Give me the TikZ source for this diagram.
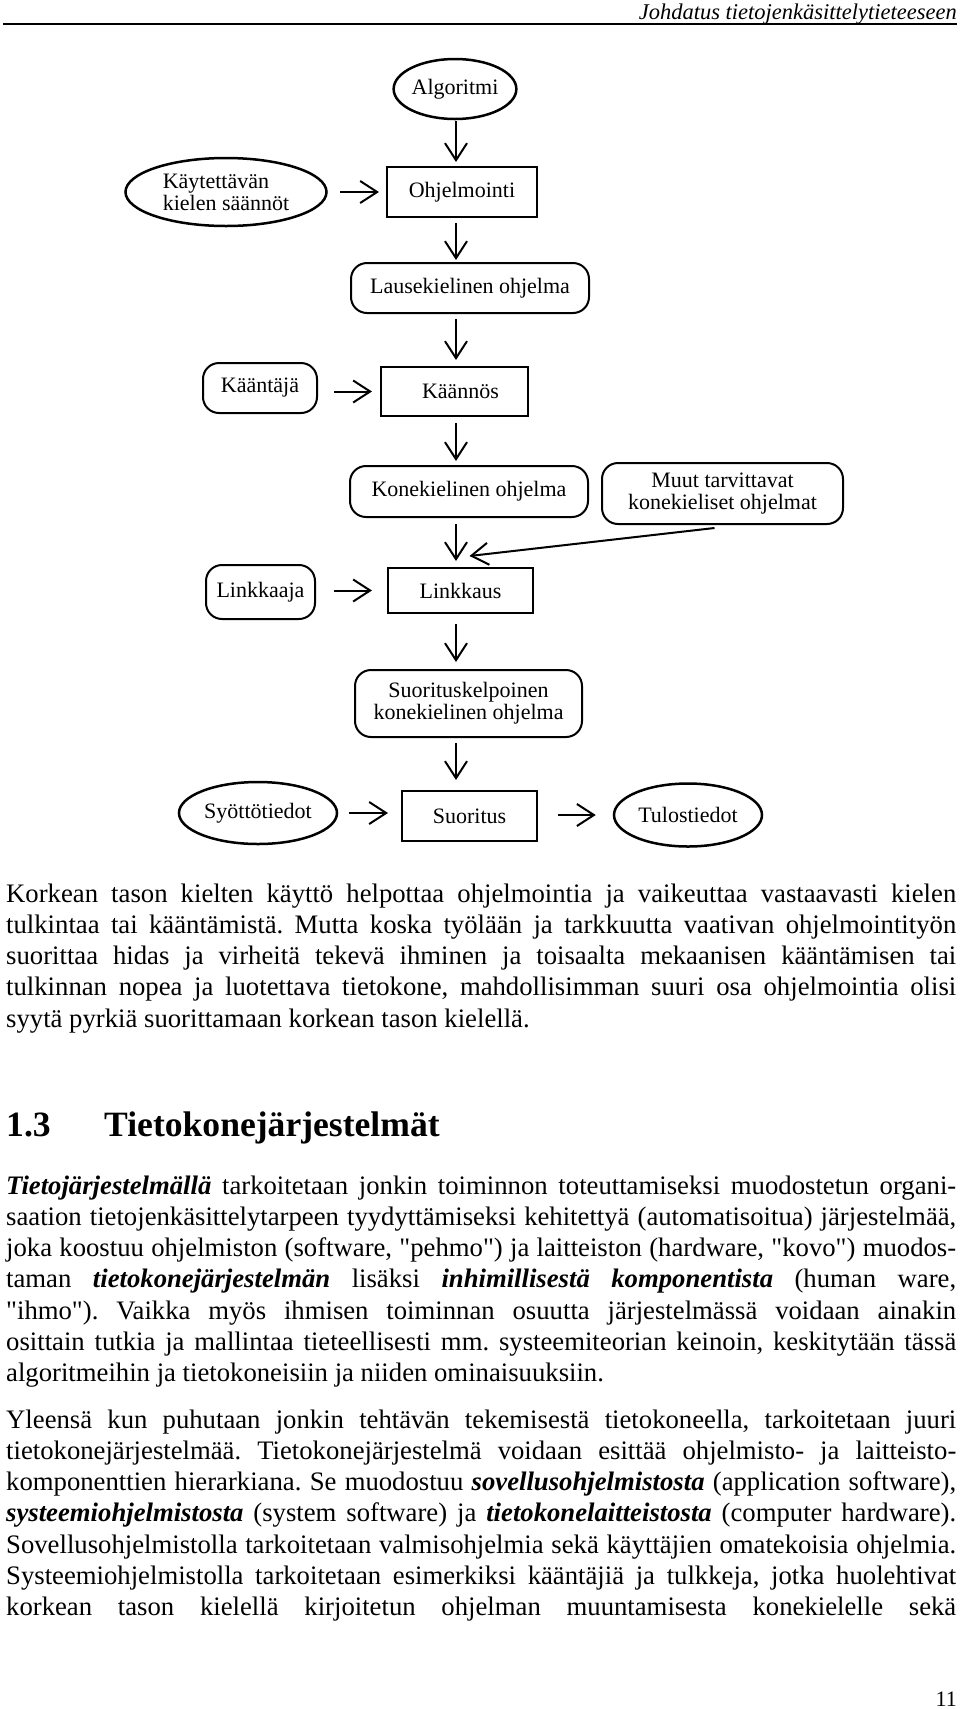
\documentclass[tikz,border=0pt]{standalone}
\usepackage{fontspec}
\setmainfont{Liberation Serif}
\usetikzlibrary{shapes.geometric,arrows.meta,calc}
\newcommand\jfull[1]{\hbox to 950pt{\strut #1}}
\newcommand\jlast[1]{\hbox{\strut #1}}
\newcommand\bfit[1]{\textbf{\textit{#1}}}
\newcommand\dq{\XeTeXglyph\XeTeXcharglyph"22\relax}
\newcommand\bodyfont{\fontsize{26.7}{31.3}\selectfont\frenchspacing}
\tikzset{
  base/.style={draw, line width=2pt, inner sep=0pt, font=\fontsize{22}{22}\selectfont, align=center},
  ell/.style={base, ellipse, line width=2.5pt},
  rbox/.style={base, rectangle, rounded corners=16pt},
  sbox/.style={base, rectangle},
  arr/.style={line width=2pt, -{Straight Barb[length=17pt,width=22pt]}},
}
\begin{document}
\begin{tikzpicture}[x=1pt,y=-1pt]
\fill[white] (0,0) rectangle (960,1709);
\useasboundingbox (0,0) rectangle (960,1709);
% header
\node[anchor=base east, inner sep=0, font=\fontsize{22.5}{22.5}\selectfont\itshape] (hdr) at (957,19) {Johdatus tietojenkäsittelytieteeseen};
\draw[line width=1.5pt] (3,24) -- (957,24);
% column for vertical arrows
\coordinate (col) at (456,0);
% nodes
\node[ell, minimum width=120, minimum height=60] (alg) at (455,89) {Algoritmi};
\node[sbox, minimum width=150, minimum height=50] (ohj) at (462,192) {Ohjelmointi};
\node[ell, minimum width=201, minimum height=68, align=left] (kay) at (226,192) {Käytettävän\\kielen säännöt};
\node[rbox, minimum width=238, minimum height=50] (laus) at (470,288) {Lausekielinen ohjelma};
\node[rbox, minimum width=114, minimum height=50] (ktj) at (260,388) {Kääntäjä};
\node[sbox, minimum width=147, minimum height=49] (kns) at (454.5,391.5) {\hspace*{12pt}Käännös};
\node[rbox, minimum width=238, minimum height=51] (kone) at (469,491.5) {Konekielinen ohjelma};
\node[rbox, minimum width=241, minimum height=61] (muut) at (722.5,493.5) {Muut tarvittavat\\konekieliset ohjelmat};
\node[rbox, minimum width=109, minimum height=54] (lkj) at (260.5,592) {Linkkaaja};
\node[sbox, minimum width=145, minimum height=45] (lks) at (460.5,590.5) {Linkkaus};
\node[rbox, minimum width=227, minimum height=67] (skp) at (468.5,703.5) {Suorituskelpoinen\\konekielinen ohjelma};
\node[ell, minimum width=158, minimum height=62] (syo) at (258,813) {Syöttötiedot};
\node[sbox, minimum width=135, minimum height=50] (suo) at (469.5,816) {Suoritus};
\node[ell, minimum width=148, minimum height=63] (tul) at (688,815) {Tulostiedot};
% vertical arrows
\draw[arr, shorten <=1pt, shorten >=4pt] (alg.south -| col) -- (ohj.north -| col);
\draw[arr, shorten <=5pt, shorten >=2pt] (ohj.south -| col) -- (laus.north -| col);
\draw[arr, shorten <=5pt, shorten >=6pt] (laus.south -| col) -- (kns.north -| col);
\draw[arr, shorten <=6pt, shorten >=4pt] (kns.south -| col) -- (kone.north -| col);
\draw[arr, shorten <=6pt, shorten >=6pt] (kone.south -| col) -- (lks.north -| col);
\draw[arr, shorten <=10pt, shorten >=7pt] (lks.south -| col) -- (skp.north -| col);
\draw[arr, shorten <=5pt, shorten >=10pt] (skp.south -| col) -- (suo.north -| col);
% horizontal arrows
\draw[arr, shorten <=12pt, shorten >=7pt] (kay.east) -- (kay.east -| ohj.west);
\draw[arr, shorten <=16pt, shorten >=8pt] (kns.west -| ktj.east) -- (kns.west);
\draw[arr, shorten <=18pt, shorten >=15pt] (lks.west -| lkj.east) -- (lks.west);
\draw[arr, shorten <=11pt, shorten >=13pt] (syo.east) -- (syo.east -| suo.west);
\draw[arr, shorten <=20pt, shorten >=17pt] (tul.west -| suo.east) -- (tul.west);
% diagonal
\draw[arr] ($(muut.south)+(-8,3)$) -- ($(lks.north)+(9,-11)$);
% body text
\node[anchor=base west, inner sep=0] (p1) at (6,902) {\vtop{\hsize=950pt\bodyfont
\jfull{Korkean tason kielten käyttö helpottaa ohjelmointia ja vaikeuttaa vastaavasti kielen}
\jfull{tulkintaa tai kääntämistä. Mutta koska työlään ja tarkkuutta vaativan ohjelmointityön}
\jfull{suorittaa hidas ja virheitä tekevä ihminen ja toisaalta mekaanisen kääntämisen tai}
\jfull{tulkinnan nopea ja luotettava tietokone, mahdollisimman suuri osa ohjelmointia olisi}
\jlast{syytä pyrkiä suorittamaan korkean tason kielellä.}}};
\node[anchor=base west, inner sep=0, font=\fontsize{35.6}{40}\selectfont\bfseries] (hnum) at (6,1136) {1.3};
\node[anchor=base west, inner sep=0, font=\fontsize{35.6}{40}\selectfont\bfseries] (htit) at (104,1136) {Tietokonejärjestelmät};
\node[anchor=base west, inner sep=0] (p2) at (6,1194) {\vtop{\hsize=950pt\bodyfont
\jfull{\bfit{Tietojärjestelmällä} tarkoitetaan jonkin toiminnon toteuttamiseksi muodostetun organi-}
\jfull{saation tietojenkäsittelytarpeen tyydyttämiseksi kehitettyä (automatisoitua) järjestelmää,}
\jfull{joka koostuu ohjelmiston (software, \dq pehmo\dq) ja laitteiston (hardware, \dq kovo\dq) muodos-}
\jfull{taman \bfit{tietokonejärjestelmän} lisäksi \bfit{inhimillisestä komponentista} (human ware,}
\jfull{\dq ihmo\dq). Vaikka myös ihmisen toiminnan osuutta järjestelmässä voidaan ainakin}
\jfull{osittain tutkia ja mallintaa tieteellisesti mm. systeemiteorian keinoin, keskitytään tässä}
\jlast{algoritmeihin ja tietokoneisiin ja niiden ominaisuuksiin.}}};
\node[anchor=base west, inner sep=0] (p3) at (6,1428) {\vtop{\hsize=950pt\bodyfont
\jfull{Yleensä kun puhutaan jonkin tehtävän tekemisestä tietokoneella, tarkoitetaan juuri}
\jfull{tietokonejärjestelmää. Tietokonejärjestelmä voidaan esittää ohjelmisto- ja laitteisto-}
\jfull{komponenttien hierarkiana. Se muodostuu \bfit{sovellusohjelmistosta} (application software),}
\jfull{\bfit{systeemiohjelmistosta} (system software) ja \bfit{tietokonelaitteistosta} (computer hardware).}
\jfull{Sovellusohjelmistolla tarkoitetaan valmisohjelmia sekä käyttäjien omatekoisia ohjelmia.}
\jfull{Systeemiohjelmistolla tarkoitetaan esimerkiksi kääntäjiä ja tulkkeja, jotka huolehtivat}
\jfull{korkean tason kielellä kirjoitetun ohjelman muuntamisesta konekielelle sekä}}};
\node[anchor=base east, inner sep=0, font=\fontsize{22}{22}\selectfont] (pnum) at (957,1706) {11};
\end{tikzpicture}
\end{document}
